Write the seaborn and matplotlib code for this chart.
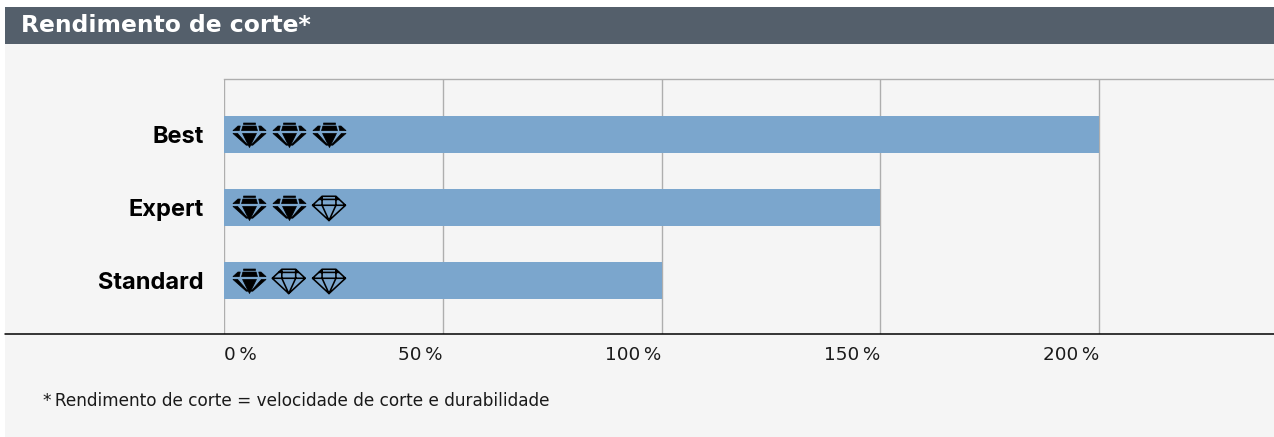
import matplotlib
matplotlib.use("Agg")
import matplotlib.pyplot as plt
from matplotlib.patches import Rectangle
from matplotlib.path import Path
import seaborn as sns
import pandas as pd

categories = ["Best", "Expert", "Standard"]
values = [200, 150, 100]
ratings = [3, 2, 1]
tick_values = [0, 50, 100, 150, 200]
tick_labels = ["0\u2009%", "50\u2009%", "100\u2009%", "150\u2009%", "200\u2009%"]
title = "Rendimento de corte*"
footnote = "*\u2009Rendimento de corte = velocidade de corte e durabilidade"
icon_slots = [5.6, 14.8, 24.0]

W, H = 1274, 437
BG = "#f5f5f5"
sns.set_theme(style="white")
plt.rcParams["font.family"] = ["Inter", "DejaVu Sans"]

fig = plt.figure(figsize=(W / 100, H / 100), dpi=100, facecolor="white")
fig.add_artist(Rectangle((5 / W, 0), 1 - 5 / W, 1 - 7 / H, transform=fig.transFigure, fc=BG, ec="none", zorder=-3))
fig.add_artist(Rectangle((5 / W, 1 - 44 / H), 1 - 5 / W, 37 / H, transform=fig.transFigure, fc="#545f6b", ec="none", zorder=-2))
fig.text(21 / W, 1 - 26 / H, title, color="white", fontsize=16.9, fontweight="bold", va="center", ha="left", family=["DejaVu Sans"])

ax = fig.add_axes([224 / W, 1 - 334 / H, 1 - 224 / W, 255 / H])
ax.patch.set_alpha(0)
df = pd.DataFrame({"cat": categories, "val": values})
sns.barplot(data=df, x="val", y="cat", color="#7ba6cd", saturation=1, width=0.507, ax=ax, zorder=3, edgecolor="none", linewidth=0)
ax.set_xlim(0, 240)
ax.set_ylim(2.733, -0.76)
ax.set_xlabel("")
ax.set_ylabel("")
ax.set_xticks(tick_values)
ax.set_xticklabels(tick_labels, fontsize=13.2, color="#1a1a1a", family=["DejaVu Sans"])
ax.tick_params(axis="x", length=0, pad=8.7)
ax.tick_params(axis="y", length=0, pad=14.4)
for i, lab in enumerate(ax.get_xticklabels()):
    lab.set_ha("left" if i == 0 else "right")
for lab in ax.get_yticklabels():
    lab.set_fontsize(17)
    lab.set_fontweight("bold")
    lab.set_color("black")
ax.grid(False)
for x in tick_values:
    ax.axvline(x, color="#aeaeae", lw=1.0, zorder=2)
for s in ["right", "left", "bottom"]:
    ax.spines[s].set_visible(False)
ax.spines["top"].set_color("#aeaeae")
ax.spines["top"].set_linewidth(1.0)
fig.add_artist(plt.Line2D([5 / W, 1], [1 - 334 / H] * 2, transform=fig.transFigure, color="black", lw=1.1))

# Diamond icons
YS = 0.79
outline_v, outline_c = [], []
def seg(pts, closed=False):
    for i, (px, py) in enumerate(pts):
        outline_v.append((px, py * YS))
        outline_c.append(Path.MOVETO if i == 0 else Path.LINETO)
    if closed:
        outline_v.append((pts[0][0], pts[0][1] * YS))
        outline_c.append(Path.CLOSEPOLY)
seg([(-0.42, 0.86), (0.42, 0.86), (0.62, 0.62), (1.0, 0.17), (0, -1.0), (-1.0, 0.17), (-0.62, 0.62)], True)
seg([(-0.62, 0.62), (0.62, 0.62)])
seg([(-1.0, 0.17), (1.0, 0.17)])
seg([(-0.42, 0.86), (-0.42, 0.17), (0, -1.0), (0.42, 0.17), (0.42, 0.86)])
empty_icon = Path(outline_v, outline_c)

fv, fc = [], []
def poly(pts):
    for i, (px, py) in enumerate(pts):
        fv.append((px, py * YS))
        fc.append(Path.MOVETO if i == 0 else Path.LINETO)
    fv.append((pts[0][0], pts[0][1] * YS))
    fc.append(Path.CLOSEPOLY)
poly([(-0.36, 0.88), (0.36, 0.88), (0.36, 0.77), (-0.36, 0.77)])
poly([(-0.4, 0.65), (0.4, 0.65), (0.48, 0.3), (-0.48, 0.3)])
poly([(-0.7, 0.65), (-0.56, 0.65), (-0.62, 0.3), (-1.0, 0.3)])
poly([(0.7, 0.65), (0.56, 0.65), (0.62, 0.3), (1.0, 0.3)])
poly([(-0.42, 0.08), (0.42, 0.08), (0, -1.0)])
poly([(-1.0, 0.08), (-0.72, 0.08), (-0.1, -0.82), (-0.2, -0.82)])
poly([(1.0, 0.08), (0.72, 0.08), (0.1, -0.82), (0.2, -0.82)])
filled_icon = Path(fv, fc)

for row, n in enumerate(ratings):
    for k, x in enumerate(icon_slots):
        if k < n:
            ax.scatter([x], [row], marker=filled_icon, s=565, c="black", edgecolors="black", linewidths=0.5, zorder=5)
        else:
            ax.scatter([x], [row], marker=empty_icon, s=565, facecolors="none", edgecolors="black", linewidths=1.15, zorder=5)

fig.text(43 / W, 1 - 401 / H, footnote, color="#1a1a1a", fontsize=12.2, va="center", ha="left", family=["DejaVu Sans"])
fig.savefig("out.png", dpi=100, facecolor="white")
